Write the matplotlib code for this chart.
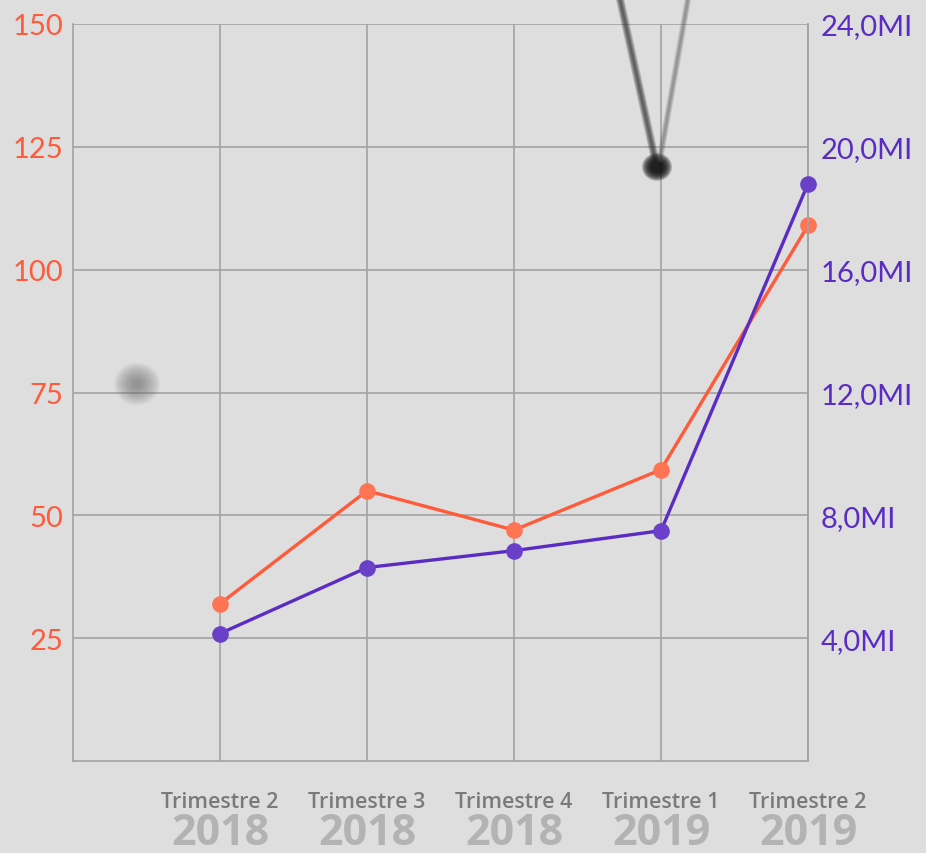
import numpy as np
import matplotlib.pyplot as plt

quarters = ['Trimestre 2', 'Trimestre 3', 'Trimestre 4', 'Trimestre 1', 'Trimestre 2']
years = ['2018', '2018', '2018', '2019', '2019']
orange_vals = [32, 55, 47, 59.3, 109]
purple_vals = [4.15, 6.3, 6.85, 7.5, 18.8]
left_ticks = [25, 50, 75, 100, 125, 150]
right_ticks = [4, 8, 12, 16, 20, 24]

ORANGE = '#ff5a3a'
PURPLE = '#5a2cc4'
GRID = '#a3a3a3'
BG = '#dedede'

W, H = 926, 854
fig = plt.figure(figsize=(W / 100, H / 100), dpi=100, facecolor=BG)


def px(x, y):
    return x / W, 1 - y / H


ax = fig.add_axes([73 / W, (H - 762) / H, (808 - 73) / W, (762 - 25) / H])
ax.set_facecolor('none')
ax2 = ax.twinx()

x = np.arange(1, len(quarters) + 1)
ax.set_xlim(0, 5)
ax.set_ylim(0, 150)
ax2.set_ylim(0, 24)

ax.set_yticks(left_ticks)
ax.set_yticklabels([str(t) for t in left_ticks], color=ORANGE, fontsize=21, family='Lato')
ax2.set_yticks(right_ticks)
ax2.set_yticklabels(['%d,0MI' % t for t in right_ticks], color=PURPLE, fontsize=21, family='Lato')
ax.tick_params(axis='y', length=0, pad=7)
ax2.tick_params(axis='y', length=0, pad=9)
ax.set_xticks(x)
ax.set_xticklabels([])
ax.tick_params(axis='x', length=0)

ax.grid(True, color=GRID, lw=1.2)
ax.set_axisbelow(True)
for a in (ax, ax2):
    for s in a.spines.values():
        s.set_color(GRID)
        s.set_linewidth(1.2)
    a.spines['top'].set_visible(False)
ax2.spines['left'].set_visible(False)
ax2.spines['bottom'].set_visible(False)

ax.plot(x, orange_vals, color=ORANGE, lw=2.4, zorder=3, clip_on=False)
ax.plot(x, orange_vals, ls='none', marker='o', ms=12, mfc='#ff7452', mec='none', zorder=4, clip_on=False)
ax2.plot(x, purple_vals, color=PURPLE, lw=2.4, zorder=3, clip_on=False)
ax2.plot(x, purple_vals, ls='none', marker='o', ms=12, mfc='#6a40c8', mec='none', zorder=4, clip_on=False)

for xi, q, yr in zip(x, quarters, years):
    ax.text(xi, -0.055, q, transform=ax.get_xaxis_transform(), ha='center', va='center',
            fontsize=15.5, color='#7a7a7a', family='Open Sans', fontweight='semibold')
    ax.text(xi, -0.097, yr, transform=ax.get_xaxis_transform(), ha='center', va='center',
            fontsize=31, color='#b3b3b3', family='Open Sans', fontweight='bold')

# decorations: pendulum and blurred dot
for k in range(6):
    a = 0.12
    w = 6 - k
    fig.add_artist(plt.Line2D([px(620, 0)[0], px(655, 160)[0]], [px(620, 0)[1], px(655, 160)[1]],
                              transform=fig.transFigure, color='#222222', lw=w, alpha=a * 1.4))
    fig.add_artist(plt.Line2D([px(688, 0)[0], px(660, 160)[0]], [px(688, 0)[1], px(660, 160)[1]],
                              transform=fig.transFigure, color='#555555', lw=w * 0.8, alpha=a))
for r in np.linspace(15, 6, 10):
    cx, cy = px(657, 168)
    fig.add_artist(plt.Circle((cx, cy), r / W, transform=fig.transFigure, color='#111111',
                              alpha=0.22, lw=0))
for r in np.linspace(23, 4, 14):
    cx, cy = px(137, 385)
    fig.add_artist(plt.Circle((cx, cy), r / W, transform=fig.transFigure, color='#666666',
                              alpha=0.06, lw=0))

fig.savefig('out.png', dpi=100, facecolor=BG)
